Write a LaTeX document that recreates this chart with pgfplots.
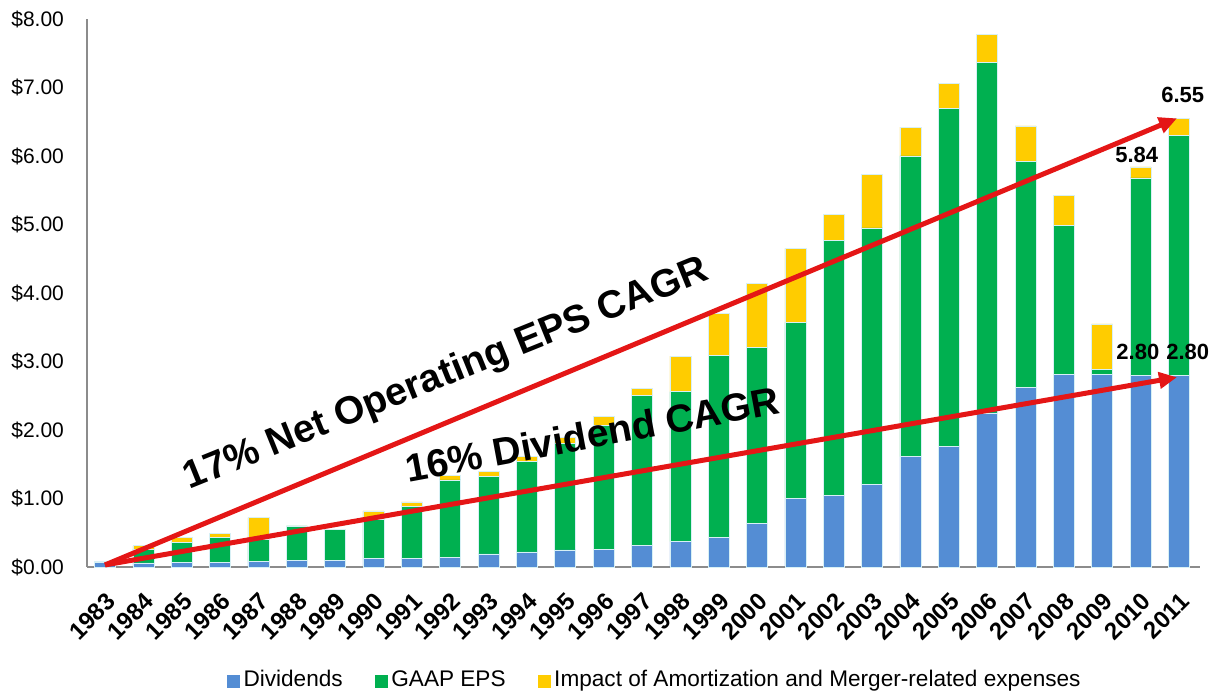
\documentclass[border=0pt]{standalone}
\usepackage{pgfplots}
\pgfplotsset{compat=1.18}
\usepackage{pgfplotstable}
\usepackage{fontspec}
\setmainfont{Liberation Sans}
\usetikzlibrary{arrows.meta}
\definecolor{divblue}{RGB}{84,141,212}
\definecolor{epsgreen}{RGB}{0,176,80}
\definecolor{amyellow}{RGB}{255,204,0}
\definecolor{arrred}{RGB}{228,22,22}
\definecolor{axgray}{RGB}{140,140,140}
\definecolor{sepc}{RGB}{215,240,245}

\pgfplotstableread{
idx year div eps total
0 1983 0.07 0.08 0.08
1 1984 0.06 0.26 0.31
2 1985 0.07 0.36 0.43
3 1986 0.07 0.43 0.49
4 1987 0.08 0.40 0.72
5 1988 0.10 0.60 0.60
6 1989 0.10 0.55 0.55
7 1990 0.13 0.69 0.82
8 1991 0.13 0.88 0.95
9 1992 0.14 1.27 1.34
10 1993 0.19 1.32 1.39
11 1994 0.22 1.54 1.61
12 1995 0.25 1.81 1.89
13 1996 0.26 2.07 2.20
14 1997 0.32 2.50 2.61
15 1998 0.37 2.56 3.08
16 1999 0.43 3.09 3.70
17 2000 0.64 3.21 4.14
18 2001 1.00 3.57 4.65
19 2002 1.05 4.77 5.15
20 2003 1.20 4.95 5.73
21 2004 1.61 6.00 6.42
22 2005 1.76 6.70 7.06
23 2006 2.25 7.37 7.77
24 2007 2.62 5.92 6.44
25 2008 2.81 4.99 5.42
26 2009 2.81 2.88 3.55
27 2010 2.80 5.68 5.84
28 2011 2.80 6.30 6.55
}\data

\pgfplotsset{common/.style={
  scale only axis, width=556.5pt, height=274pt,
  xmin=-0.47, xmax=28.55, ymin=0, ymax=8, clip=false}}

\begin{document}
\begin{tikzpicture}
\begin{axis}[
  common,
  ybar stacked, bar width=10.5pt,
  axis x line=bottom, axis y line=left,
  axis line style={-, axgray, line width=1.2pt},
  major tick length=0pt,
  xtick={0,...,28},
  xticklabels={1983,1984,1985,1986,1987,1988,1989,1990,1991,1992,1993,1994,1995,1996,1997,1998,1999,2000,2001,2002,2003,2004,2005,2006,2007,2008,2009,2010,2011},
  xticklabel style={inner sep=0pt, xshift=0pt, yshift=-12pt, rotate=45, anchor=north east, font=\bfseries\fontsize{12}{12}\selectfont},
  ytick={0,1,2,3,4,5,6,7,8},
  yticklabels={\$0.00,\$1.00,\$2.00,\$3.00,\$4.00,\$5.00,\$6.00,\$7.00,\$8.00},
  yticklabel style={font=\fontsize{10.5}{11}\selectfont, xshift=-8pt},
  legend columns=3,
  legend style={at={(0.511,-0.206)}, anchor=center, draw=none, fill=none,
    font=\fontsize{11.3}{12}\selectfont,
    /tikz/every even column/.append style={column sep=14pt},
    /tikz/every odd column/.append style={column sep=0pt}},
]
\addplot[fill=divblue, draw=sepc, line width=0.3pt,
  legend image code/.code={\fill[divblue] (0pt,-3.5pt) rectangle (6pt,2.5pt);}]
  table[x=idx, y=div] {\data};
\addlegendentry{Dividends}
\addplot[fill=epsgreen, draw=sepc, line width=0.3pt,
  legend image code/.code={\fill[epsgreen] (0pt,-3.5pt) rectangle (6pt,2.5pt);}]
  table[x=idx, y expr=\thisrow{eps}-\thisrow{div}] {\data};
\addlegendentry{GAAP EPS}
\addplot[fill=amyellow, draw=sepc, line width=0.3pt,
  legend image code/.code={\fill[amyellow] (0pt,-3.5pt) rectangle (6pt,2.5pt);}]
  table[x=idx, y expr=\thisrow{total}-\thisrow{eps}] {\data};
\addlegendentry{Impact of Amortization and Merger-related expenses}
\end{axis}

\begin{axis}[common, hide axis]
\addplot[no marks, draw=arrred, line width=2.5pt,
  -{Triangle[length=9pt,width=8pt]}] coordinates {(0,0.03) (27.95,6.55)};
\addplot[no marks, draw=arrred, line width=2.5pt,
  -{Triangle[length=9pt,width=8pt]}] coordinates {(0,0.03) (27.95,2.77)};
\node[rotate=22, font=\bfseries\fontsize{19.5}{20}\selectfont] at (axis cs:8.9,2.80) {17\% Net Operating EPS CAGR};
\node[rotate=10.5, font=\bfseries\fontsize{19.5}{20}\selectfont] at (axis cs:12.7,1.94) {16\% Dividend CAGR};
\node[font=\bfseries\fontsize{11}{12}\selectfont] at (axis cs:28.1,6.89) {6.55};
\node[font=\bfseries\fontsize{11}{12}\selectfont] at (axis cs:26.9,6.01) {5.84};
\node[font=\bfseries\fontsize{11}{12}\selectfont] at (axis cs:26.93,3.14) {2.80};
\node[font=\bfseries\fontsize{11}{12}\selectfont] at (axis cs:28.23,3.14) {2.80};
\end{axis}
\pgfresetboundingbox
\path[use as bounding box] ([xshift=-43.5pt,yshift=-64pt]current axis.south west) rectangle ([xshift=8.5pt,yshift=9.5pt]current axis.north east);
\end{tikzpicture}
\end{document}
